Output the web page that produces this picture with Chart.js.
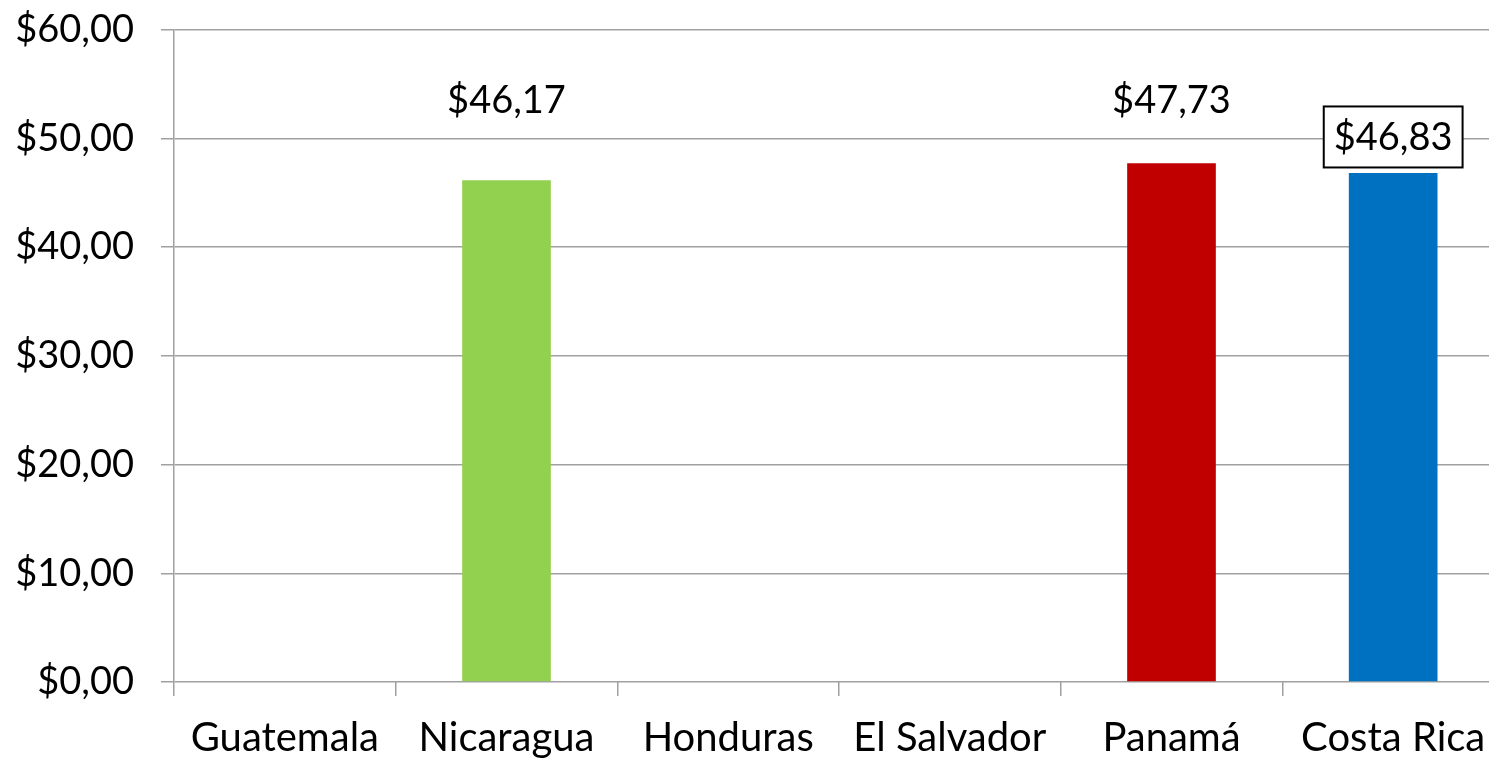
<!DOCTYPE html>
<html>
<head>
<meta charset="utf-8">
<script src="https://cdn.jsdelivr.net/npm/chart.js@4/dist/chart.umd.min.js"></script>
<style>
html,body{margin:0;padding:0;background:#fff;overflow:hidden}
#wrap{width:1504px;height:779px;margin-top:-20px}
</style>
</head>
<body>
<div id="wrap"><canvas id="chart"></canvas></div>
<script>
// data
const countries = ["Guatemala","Nicaragua","Honduras","El Salvador","Panamá","Costa Rica"]
const prices = [null,46.17,null,null,47.73,46.83]
const barColors = ["#92d050","#92d050","#92d050","#92d050","#c00000","#0070c0"]
const yTicks = [0,10,20,30,40,50,60]

// how far above the bar each label sits (px), and which one is boxed
const labelLift = [0,80,0,0,63,36]
const labelBoxed = [false,false,false,false,false,true]

const FONT = "Lato"
const gray = "#a0a0a0"

function money(v){
  return "$" + v.toFixed(2).replace(".", ",")
}

const valueLabels = {
  id:"valueLabels",
  afterDatasetsDraw(chart){
    let ctx = chart.ctx
    let meta = chart.getDatasetMeta(0)
    ctx.save()
    ctx.font = "38px " + FONT
    ctx.textAlign = "center"
    ctx.textBaseline = "middle"
    meta.data.forEach((bar,i)=>{
      let v = prices[i]
      if(v === null) return
      let x = bar.x
      let y = bar.y - labelLift[i]
      let txt = money(v)
      if(labelBoxed[i]){
        let w = ctx.measureText(txt).width + 20
        let h = 61
        ctx.fillStyle = "#fff"
        ctx.fillRect(x - w/2, y - h/2, w, h)
        ctx.lineWidth = 2
        ctx.strokeStyle = "#000"
        ctx.strokeRect(x - w/2, y - h/2, w, h)
      }
      ctx.fillStyle = "#000"
      ctx.fillText(txt, x, y + 1)
    })
    ctx.restore()
  }
}

new Chart(document.getElementById("chart"),{
  type:"bar",
  data:{
    labels:countries,
    datasets:[{
      data:prices,
      backgroundColor:barColors,
      categoryPercentage:1,
      barPercentage:0.40
    }]
  },
  options:{
    responsive:true,
    maintainAspectRatio:false,
    animation:false,
    layout:{padding:{top:0,right:0,left:0,bottom:0}},
    plugins:{legend:{display:false},tooltip:{enabled:false}},
    scales:{
      x:{
        grid:{display:true,drawOnChartArea:false,drawTicks:true,tickLength:14,color:gray,lineWidth:1.5},
        border:{display:false},
        ticks:{color:"#000",font:{family:FONT,size:40},padding:18,maxRotation:0,autoSkip:false},
        afterFit(scale){ scale.height = 77 }
      },
      y:{
        min:0,max:60,
        afterBuildTicks(scale){ scale.ticks = yTicks.map(v=>({value:v})) },
        grid:{color:gray,lineWidth:1.5,tickLength:13},
        border:{display:true,color:gray,width:1.5},
        ticks:{color:"#000",font:{family:FONT,size:38},padding:27,callback:v=>money(v)},
        afterFit(scale){ scale.width = 174 }
      }
    }
  },
  plugins:[valueLabels]
})
</script>
</body>
</html>
